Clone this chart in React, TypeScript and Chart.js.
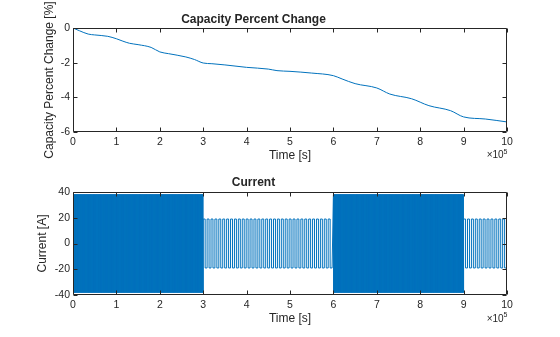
import React, { useEffect, useRef } from "react";
import { Chart, registerables } from "chart.js";

Chart.register(...registerables);

// Time axis is expressed in units of 1e5 s (shown with the ×10^5 multiplier)
const timeTickValues = [0, 1, 2, 3, 4, 5, 6, 7, 8, 9, 10];

// Top panel: capacity percent change [%]
const capTime = [
  0, 0.15, 0.35, 0.5, 0.8, 1.0, 1.15, 1.3, 1.5, 1.8, 2.0, 2.2, 2.6, 2.8, 3.0,
  3.2, 3.5, 4.0, 4.5, 4.7, 5.0, 5.5, 6.0, 6.2, 6.5, 7.0, 7.3, 7.8, 8.2, 8.7,
  9.0, 9.5, 10.0,
];
const capChange = [
  0, -0.16, -0.35, -0.4, -0.48, -0.62, -0.76, -0.88, -0.96, -1.12, -1.38,
  -1.48, -1.67, -1.82, -2.02, -2.06, -2.13, -2.27, -2.37, -2.46, -2.5, -2.6,
  -2.75, -2.94, -3.21, -3.46, -3.81, -4.08, -4.48, -4.77, -5.13, -5.25, -5.42,
];

// Bottom panel: current [A], a pulsed charge/discharge profile in blocks
const segStart = [0, 3, 6, 9];
const segEnd = [3, 6, 9, 10];
const segAmplitude = [38, 19, 38, 19];
const segPeriod = [0.01, 0.09, 0.01, 0.09];

const AXIS_COLOR = "#262626";
const LINE_COLOR = "#0072BD";
const FONT = "'Liberation Sans', Arial, Helvetica, sans-serif";

function buildCurrent() {
  const pts: { x: number; y: number }[] = [];
  for (let s = 0; s < segStart.length; s++) {
    const a = segAmplitude[s];
    const p = segPeriod[s];
    const n = Math.round((segEnd[s] - segStart[s]) / p);
    for (let k = 0; k < n; k++) {
      const t0 = segStart[s] + k * p;
      pts.push({ x: t0, y: a }, { x: t0 + p / 2, y: a }, { x: t0 + p / 2, y: -a }, { x: t0 + p, y: -a });
    }
  }
  return pts;
}

const framePlugin = {
  id: "matlabFrame",
  afterDatasetsDraw(chart: any, _args: any, opts: any) {
    const { ctx, chartArea } = chart;
    const { left, right, top, bottom } = chartArea;
    const xs = chart.scales.x;
    const ys = chart.scales.y;
    const L = Math.round(left) + 0.5;
    const R = Math.round(right) - 0.5;
    const T = Math.round(top) + 0.5;
    const B = Math.round(bottom) - 0.5;
    ctx.save();
    ctx.strokeStyle = AXIS_COLOR;
    ctx.lineWidth = 1;
    ctx.beginPath();
    ctx.rect(L, T, R - L, B - T);
    const tl = 4;
    xs.ticks.forEach((t: any) => {
      const px = Math.round(xs.getPixelForValue(t.value)) + 0.5;
      ctx.moveTo(px, B);
      ctx.lineTo(px, B - tl);
      ctx.moveTo(px, T);
      ctx.lineTo(px, T + tl);
    });
    ys.ticks.forEach((t: any) => {
      const py = Math.round(ys.getPixelForValue(t.value)) + 0.5;
      ctx.moveTo(L, py);
      ctx.lineTo(L + tl, py);
      ctx.moveTo(R, py);
      ctx.lineTo(R - tl, py);
    });
    ctx.stroke();
    // exponent label ×10^5
    ctx.fillStyle = AXIS_COLOR;
    ctx.textBaseline = "alphabetic";
    ctx.textAlign = "right";
    ctx.font = `7px ${FONT}`;
    const baseY = opts.expY;
    ctx.fillText("5", right + 0.5, baseY - 4.5);
    const w5 = ctx.measureText("5").width;
    ctx.font = `10px ${FONT}`;
    ctx.fillText("×10", right + 0.5 - w5, baseY);
    ctx.restore();
  },
};

function makeOptions(p: {
  title: string;
  titlePadTop: number;
  titlePadBottom: number;
  yMin: number;
  yMax: number;
  yStep: number;
  yTitle: string;
  yTitlePad: number;
  xAxisHeight: number;
  xTitlePad: number;
  expY: number;
}) {
  return {
    responsive: false,
    animation: false,
    events: [],
    layout: { padding: { left: 0, right: 53, top: 0, bottom: 0 } },
    plugins: {
      legend: { display: false },
      tooltip: { enabled: false },
      decimation: { enabled: false },
      title: {
        display: true,
        text: p.title,
        color: AXIS_COLOR,
        font: { family: FONT, size: 12, weight: "bold" },
        padding: { top: p.titlePadTop, bottom: p.titlePadBottom },
      },
      matlabFrame: { expY: p.expY },
    },
    scales: {
      x: {
        type: "linear",
        min: 0,
        max: 10,
        afterBuildTicks: (scale: any) => {
          scale.ticks = timeTickValues.map((v) => ({ value: v }));
        },
        afterFit: (scale: any) => {
          scale.height = p.xAxisHeight;
        },
        grid: { display: false, drawTicks: false },
        border: { display: false },
        ticks: {
          color: AXIS_COLOR,
          padding: 4,
          maxRotation: 0,
          autoSkip: false,
          font: { family: FONT, size: 10.5 },
        },
        title: {
          display: true,
          text: "Time [s]",
          color: AXIS_COLOR,
          font: { family: FONT, size: 12 },
          padding: { top: 0, bottom: p.xTitlePad },
        },
      },
      y: {
        type: "linear",
        min: p.yMin,
        max: p.yMax,
        ticks: {
          stepSize: p.yStep,
          color: AXIS_COLOR,
          padding: 3,
          font: { family: FONT, size: 10.5 },
        },
        afterFit: (scale: any) => {
          scale.width = 73;
        },
        grid: { display: false, drawTicks: false },
        border: { display: false },
        title: {
          display: true,
          text: p.yTitle,
          color: AXIS_COLOR,
          font: { family: FONT, size: 12 },
          padding: { top: p.yTitlePad, bottom: 0 },
        },
      },
    },
  };
}

export default function App() {
  const topRef = useRef<HTMLCanvasElement | null>(null);
  const botRef = useRef<HTMLCanvasElement | null>(null);

  useEffect(() => {
    const capData = capTime.map((t, i) => ({ x: t, y: capChange[i] }));
    const top = new Chart(topRef.current as HTMLCanvasElement, {
      type: "line",
      data: {
        datasets: [
          {
            data: capData,
            borderColor: LINE_COLOR,
            borderWidth: 1,
            pointRadius: 0,
            tension: 0.3,
            cubicInterpolationMode: "monotone",
            fill: false,
          },
        ],
      },
      options: makeOptions({
        title: "Capacity Percent Change",
        titlePadTop: 12,
        titlePadBottom: 1.6,
        yMin: -6,
        yMax: 0,
        yStep: 2,
        yTitle: "Capacity Percent Change [%]",
        yTitlePad: 42.3,
        xAxisHeight: 36,
        xTitlePad: 5.3,
        expY: 158,
      }) as any,
      plugins: [framePlugin],
    });

    const bot = new Chart(botRef.current as HTMLCanvasElement, {
      type: "line",
      data: {
        datasets: [
          {
            data: buildCurrent(),
            borderColor: LINE_COLOR,
            borderWidth: 1,
            borderDash: [100000, 0],
            pointRadius: 0,
            tension: 0,
            fill: false,
          },
        ],
      },
      options: makeOptions({
        title: "Current",
        titlePadTop: 7.3,
        titlePadBottom: 2.3,
        yMin: -40,
        yMax: 40,
        yStep: 20,
        yTitle: "Current [A]",
        yTitlePad: 35.8,
        xAxisHeight: 42,
        xTitlePad: 11.3,
        expY: 153.5,
      }) as any,
      plugins: [framePlugin],
    });

    return () => {
      top.destroy();
      bot.destroy();
    };
  }, []);

  return (
    <div style={{ position: "absolute", left: 0, top: 0, width: 560, height: 337, background: "#ffffff" }}>
      <canvas ref={topRef} width={560} height={168} style={{ position: "absolute", left: 0, top: 0, width: 560, height: 168 }} />
      <canvas ref={botRef} width={560} height={169} style={{ position: "absolute", left: 0, top: 168, width: 560, height: 169 }} />
    </div>
  );
}
